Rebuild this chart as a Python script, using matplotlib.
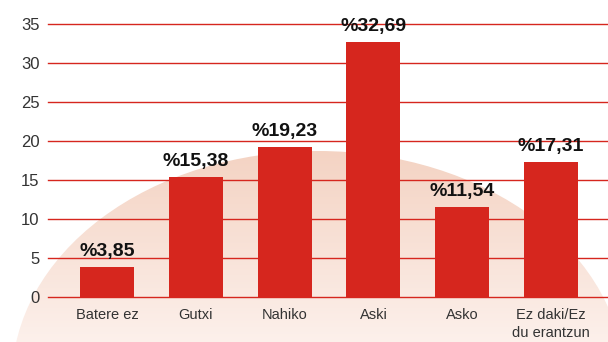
import numpy as np
import matplotlib
matplotlib.use("Agg")
import matplotlib.pyplot as plt
from matplotlib.patches import Ellipse

categories = ["Batere ez", "Gutxi", "Nahiko", "Aski", "Asko", "Ez daki/Ez\ndu erantzun"]
values = [3.85, 15.38, 19.23, 32.69, 11.54, 17.31]
value_labels = ["%3,85", "%15,38", "%19,23", "%32,69", "%11,54", "%17,31"]
yticks = [0, 5, 10, 15, 20, 25, 30, 35]

RED = "#d6261e"
plt.rcParams["font.family"] = ["Liberation Sans", "DejaVu Sans"]

W, H = 608, 342
fig = plt.figure(figsize=(W / 100, H / 100), dpi=100)
fig.patch.set_facecolor("white")

# decorative peach dome behind the plot
bg = fig.add_axes([0, 0, 1, 1])
bg.set_xlim(0, W)
bg.set_ylim(H, 0)
bg.axis("off")
top_c = np.array([244, 211, 195]) / 255
bot_c = np.array([254, 246, 243]) / 255
t = np.linspace(0, 1, 256)[:, None, None]
grad = top_c * (1 - t) + bot_c * t
grad = np.repeat(grad, 2, axis=1)
cy, b, a, cx = 380, 229, 306, 318
im = bg.imshow(grad, extent=(0, W, cy, cy - b), aspect="auto", zorder=0)
dome = Ellipse((cx, cy), 2 * a, 2 * b, transform=bg.transData, facecolor="none", edgecolor="none")
bg.add_patch(dome)
im.set_clip_path(dome)

ax = fig.add_axes([48 / W, (H - 297) / H, 1 - 48 / W, (297 - 24) / H])
ax.patch.set_alpha(0)
x = np.arange(len(categories))
ax.bar(x, values, width=0.607, color=RED, zorder=3)
ax.set_xlim(-0.663, 5.64)
ax.set_ylim(0, 35)
ax.set_yticks(yticks)
ax.set_yticklabels([str(v) for v in yticks], fontsize=12, color="#333333")
ax.set_xticks(x)
ax.set_xticklabels(categories, fontsize=10.5, color="#333333", linespacing=1.35)
ax.tick_params(axis="both", length=0)
ax.tick_params(axis="y", pad=6)
ax.tick_params(axis="x", pad=8)
for s in ax.spines.values():
    s.set_visible(False)
for v in yticks:
    ax.axhline(v, color=RED, lw=1.0, zorder=2, clip_on=False)

for xi, v, lab in zip(x, values, value_labels):
    ax.annotate(lab, (xi, v), xytext=(0, 8), textcoords="offset points",
                ha="center", va="baseline", fontsize=14, fontweight="bold",
                color="#111111", zorder=4)

fig.savefig("out.png", dpi=100)
